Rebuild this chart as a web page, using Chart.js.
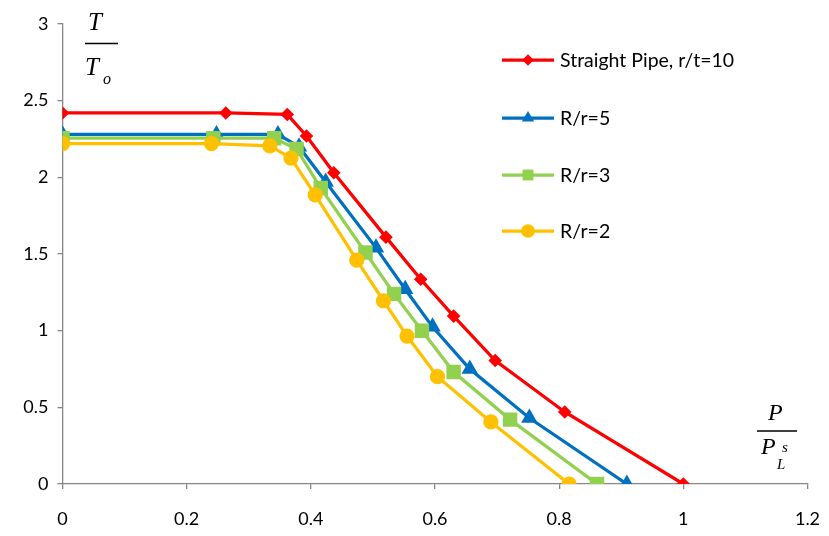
<!DOCTYPE html>
<html>
<head>
<meta charset="utf-8">
<script src="https://cdn.jsdelivr.net/npm/chart.js@4/dist/chart.umd.min.js"></script>
<style>
  html, body { margin: 0; padding: 0; background: #fff; }
  #wrap { width: 829px; height: 536px; position: relative; }
</style>
</head>
<body>
<div id="wrap"><canvas id="c" width="829" height="536"></canvas></div>
<script>
// Normalised load P/P_L^s against normalised torque T/T_o
const straightX = [0, 0.263, 0.362, 0.393, 0.437, 0.521, 0.577, 0.630, 0.697, 0.809, 1.000];
const straightY = [2.42, 2.42, 2.41, 2.27, 2.03, 1.61, 1.335, 1.095, 0.805, 0.47, 0];

const r5X = [0, 0.248, 0.347, 0.381, 0.424, 0.505, 0.552, 0.596, 0.656, 0.752, 0.909];
const r5Y = [2.28, 2.28, 2.28, 2.20, 1.97, 1.54, 1.27, 1.025, 0.75, 0.43, 0];

const r3X = [0, 0.243, 0.341, 0.377, 0.416, 0.488, 0.534, 0.579, 0.630, 0.721, 0.861];
const r3Y = [2.255, 2.255, 2.255, 2.185, 1.93, 1.51, 1.24, 1.00, 0.73, 0.42, 0];

const r2X = [0, 0.240, 0.334, 0.368, 0.407, 0.474, 0.517, 0.555, 0.604, 0.690, 0.816];
const r2Y = [2.22, 2.22, 2.205, 2.125, 1.885, 1.46, 1.195, 0.965, 0.70, 0.405, 0];

const seriesNames = ['Straight Pipe, r/t=10', 'R/r=5', 'R/r=3', 'R/r=2'];
const xTicks = [0, 0.2, 0.4, 0.6, 0.8, 1, 1.2];
const yTicks = [0, 0.5, 1, 1.5, 2, 2.5, 3];

const pts = (xs, ys) => xs.map((x, i) => ({ x, y: ys[i] }));

const TICK_FONT = { family: 'Lato, "Open Sans", sans-serif', size: 18 };
const AXIS_GREY = '#868686';

function mkSet(label, data, color, style, radius, order) {
  return {
    label, data,
    borderColor: color, backgroundColor: color,
    pointBackgroundColor: color, pointBorderColor: color,
    pointStyle: style, pointRadius: radius, pointHoverRadius: radius,
    pointBorderWidth: 0,
    borderWidth: 3.25, showLine: true, tension: 0, order
  };
}

const datasets = [
  mkSet(seriesNames[0], pts(straightX, straightY), '#FF0000', 'rectRot', 6.8, 3),
  mkSet(seriesNames[1], pts(r5X, r5Y), '#0070C0', 'triangle', 9.5, 2),
  mkSet(seriesNames[2], pts(r3X, r3Y), '#92D050', 'rect', 10.2, 1),
  mkSet(seriesNames[3], pts(r2X, r2Y), '#FFC000', 'circle', 7.6, 0)
];

// Draws a marker shape for the legend samples
function marker(ctx, style, x, y, r, color) {
  ctx.save();
  ctx.fillStyle = color;
  ctx.beginPath();
  if (style === 'rectRot') {
    ctx.moveTo(x - r, y); ctx.lineTo(x, y - r); ctx.lineTo(x + r, y); ctx.lineTo(x, y + r);
  } else if (style === 'triangle') {
    const h = r * Math.sqrt(3) / 2;
    ctx.moveTo(x, y - r); ctx.lineTo(x + h, y + r / 2); ctx.lineTo(x - h, y + r / 2);
  } else if (style === 'rect') {
    const s = r * Math.SQRT1_2;
    ctx.rect(x - s, y - s, 2 * s, 2 * s);
  } else {
    ctx.arc(x, y, r, 0, Math.PI * 2);
  }
  ctx.closePath();
  ctx.fill();
  ctx.restore();
}

const legendPlugin = {
  id: 'sideLegend',
  afterDraw(chart) {
    const ctx = chart.ctx;
    const rows = [60, 118, 175, 231];
    const legendScale = [0.85, 0.75, 0.75, 0.9];
    chart.data.datasets.forEach((ds, i) => {
      const y = rows[i];
      ctx.save();
      ctx.strokeStyle = ds.borderColor;
      ctx.lineWidth = 3.25;
      ctx.beginPath();
      ctx.moveTo(502, y); ctx.lineTo(554, y);
      ctx.stroke();
      ctx.restore();
      marker(ctx, ds.pointStyle, 528, y, ds.pointRadius * legendScale[i], ds.borderColor);
      ctx.save();
      ctx.fillStyle = '#000';
      ctx.font = '19.5px Lato, "Open Sans", sans-serif';
      ctx.textBaseline = 'middle';
      ctx.fillText(ds.label, 560, y + 1);
      ctx.restore();
    });
  }
};

// Fraction-style axis titles
const titlePlugin = {
  id: 'fractionTitles',
  afterDraw(chart) {
    const ctx = chart.ctx;
    ctx.save();
    ctx.fillStyle = '#000';
    ctx.strokeStyle = '#000';
    ctx.lineWidth = 1.3;
    ctx.textBaseline = 'alphabetic';
    ctx.textAlign = 'left';
    // T / T_o
    ctx.font = 'italic 25px "Liberation Serif", "DejaVu Serif", serif';
    ctx.fillText('T', 88, 30);
    ctx.beginPath(); ctx.moveTo(85, 43.5); ctx.lineTo(118, 43.5); ctx.stroke();
    ctx.fillText('T', 85, 75);
    ctx.font = 'italic 16px "Liberation Serif", "DejaVu Serif", serif';
    ctx.fillText('o', 103, 84);
    // P / P_L^s
    ctx.font = 'italic 24px "Liberation Serif", "DejaVu Serif", serif';
    ctx.fillText('P', 768, 420);
    ctx.beginPath(); ctx.moveTo(757, 431); ctx.lineTo(797, 431); ctx.stroke();
    ctx.fillText('P', 761, 454);
    ctx.font = 'italic 15px "Liberation Serif", "DejaVu Serif", serif';
    ctx.fillText('L', 777, 469);
    ctx.fillText('s', 782, 452);
    ctx.restore();
  }
};

new Chart(document.getElementById('c'), {
  type: 'scatter',
  data: { datasets },
  options: {
    responsive: false,
    animation: false,
    devicePixelRatio: 1,
    layout: { padding: { top: 24, right: 21.5, left: 0, bottom: 0 } },
    plugins: { legend: { display: false }, tooltip: { enabled: false } },
    scales: {
      x: {
        type: 'linear', min: 0, max: 1.2,
        afterBuildTicks: s => { s.ticks = xTicks.map(v => ({ value: v })); },
        afterFit: s => { s.height = 52; s.paddingLeft = 0; s.paddingRight = 0; },
        border: { display: true, color: AXIS_GREY, width: 1.3 },
        grid: { drawOnChartArea: false, drawTicks: true, tickLength: 5, color: AXIS_GREY, lineWidth: 1.3 },
        ticks: { color: '#000', font: TICK_FONT, padding: 19, maxRotation: 0, callback: v => String(v) }
      },
      y: {
        type: 'linear', min: 0, max: 3,
        afterBuildTicks: s => { s.ticks = yTicks.map(v => ({ value: v })); },
        afterFit: s => { s.width = 62.5; s.paddingTop = 0; s.paddingBottom = 0; },
        border: { display: true, color: AXIS_GREY, width: 1.3 },
        grid: { drawOnChartArea: false, drawTicks: true, tickLength: 5, color: AXIS_GREY, lineWidth: 1.3 },
        ticks: { color: '#000', font: TICK_FONT, padding: 9, callback: v => String(v) }
      }
    }
  },
  plugins: [legendPlugin, titlePlugin]
});
</script>
</body>
</html>
